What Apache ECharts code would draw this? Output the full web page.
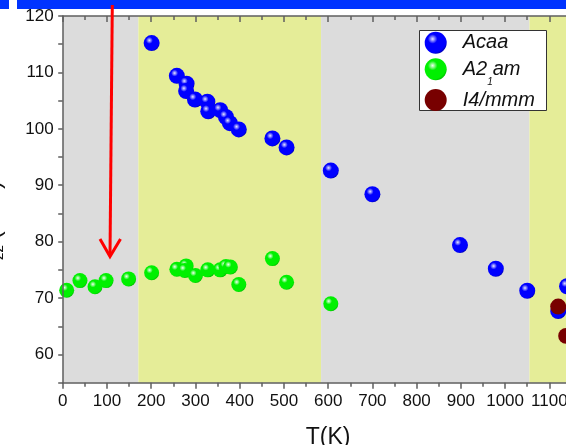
<!DOCTYPE html>
<html><head><meta charset="utf-8">
<script src="https://cdn.jsdelivr.net/npm/echarts@6/dist/echarts.min.js"></script>
<style>html,body{margin:0;padding:0;background:#fff}#c{width:566px;height:445px}</style>
</head><body><div id="c"></div>
<script>
// ---- data ----
const acaaT = [201, 258, 280, 279, 299, 327, 329, 356, 369, 378, 398, 474, 506, 606, 700, 898, 979, 1050, 1120, 1140];
const acaaV = [115.2, 109.4, 108.0, 106.7, 105.2, 104.8, 103.1, 103.3, 102.1, 101.0, 99.9, 98.3, 96.7, 92.6, 88.4, 79.4, 75.2, 71.3, 67.7, 72.1];
const a21amT = [9, 39, 73, 98, 149, 201, 258, 279, 276, 300, 328, 356, 369, 379, 398, 474, 506, 606];
const a21amV = [71.4, 73.1, 72.0, 73.1, 73.4, 74.5, 75.1, 75.7, 74.9, 74.0, 75.0, 75.0, 75.6, 75.5, 72.4, 77.0, 72.8, 69.0];
const i4mmmT = [1120, 1138];
const i4mmmV = [68.5, 63.3];
const phaseEdges = [0, 171, 584, 1055, 1200];
const seriesNames = ['Acaa', 'A21am', 'I4/mmm'];
const xRange = [0, 1200];
const yRange = [55, 120];

const FONT = 'Liberation Sans';
const AX = '#5f5f5f';
const chart = echarts.init(document.getElementById('c'), null, {renderer: 'canvas'});

function ball(hi, base, edge) {
  return {type: 'radial', x: 0.36, y: 0.33, r: 0.72,
    colorStops: [{offset: 0, color: hi}, {offset: 0.3, color: base}, {offset: 0.85, color: base}, {offset: 1, color: edge}]};
}
const bandFill = ['#dcdcdc', '#e5ed98'];
const bands = [];
for (let i = 0; i < phaseEdges.length - 1; i++) {
  bands.push([{xAxis: phaseEdges[i], itemStyle: {color: bandFill[i % 2], opacity: 1}}, {xAxis: phaseEdges[i + 1]}]);
}
const zip = (a, b) => a.map((v, i) => [v, b[i]]);

const legendBase = {orient: 'vertical', left: 424.7, padding: 0, itemWidth: 44, itemHeight: 22, itemGap: 0,
  selectedMode: false, z: 20, icon: 'circle',
  textStyle: {fontFamily: FONT, fontSize: 20, fontStyle: 'italic', color: '#111', padding: [0, 0, 0, 0]}};

const option = {
  animation: false,
  backgroundColor: '#fff',
  grid: {left: 62.7, top: 16, width: 530.9, height: 366.7, containLabel: false, outerBoundsMode: 'none'},
  xAxis: [{
    type: 'value', min: xRange[0], max: xRange[1], interval: 100, position: 'bottom', z: 10,
    axisLine: {onZero: false, lineStyle: {color: AX, width: 1.5}},
    axisTick: {length: 6, lineStyle: {color: AX, width: 1.5}},
    minorTick: {show: true, splitNumber: 2, length: 4, lineStyle: {color: AX, width: 1.5}},
    splitLine: {show: false},
    axisLabel: {color: '#111', fontSize: 17, fontFamily: FONT, margin: 10, formatter: v => String(v)},
    name: 'T(K)', nameLocation: 'middle', nameGap: 43,
    nameTextStyle: {fontSize: 23, color: '#111', fontFamily: FONT}
  }, {
    type: 'value', min: xRange[0], max: xRange[1], interval: 100, position: 'top', z: 10,
    axisLine: {onZero: false, lineStyle: {color: AX, width: 1.5}},
    axisTick: {inside: true, length: 6, lineStyle: {color: AX, width: 1.5}},
    minorTick: {show: true, splitNumber: 2, length: 4, lineStyle: {color: AX, width: 1.5}},
    splitLine: {show: false}, axisLabel: {show: false}
  }],
  yAxis: {
    type: 'value', min: yRange[0], max: yRange[1], interval: 5, z: 10,
    axisLine: {onZero: false, lineStyle: {color: AX, width: 1.5}},
    axisTick: {length: 4.5, lineStyle: {color: AX, width: 1.5}},
    splitLine: {show: false},
    axisLabel: {color: '#111', fontSize: 17, fontFamily: FONT, margin: 9,
      formatter: v => (v % 10 === 0 ? String(v) : '')}
  },
  legend: [
    Object.assign({}, legendBase, {top: 31.7, data: [seriesNames[0]]}),
    Object.assign({}, legendBase, {top: 51.3, data: [seriesNames[1]],
      formatter: () => '{t|A2}{s|1}{t|am}',
      textStyle: Object.assign({}, legendBase.textStyle, {
        rich: {t: {fontFamily: FONT, fontSize: 20, fontStyle: 'italic', lineHeight: 22, color: '#111'},
               s: {fontFamily: FONT, fontSize: 10, fontStyle: 'italic', lineHeight: 8, padding: [26, 0, 0, 0], color: '#111'}}})}),
    Object.assign({}, legendBase, {top: 89, data: [seriesNames[2]]})
  ],
  series: [
    {type: 'scatter', name: 'bands', data: [], z: 1, silent: true,
      markArea: {silent: true, data: bands}},
    {type: 'scatter', name: seriesNames[0], data: zip(acaaT, acaaV), symbolSize: 16, z: 3,
      itemStyle: {color: ball('#e6e6ff', '#0000ff', '#0000b0'), opacity: 1}},
    {type: 'scatter', name: seriesNames[1], data: zip(a21amT, a21amV), symbolSize: 15, z: 4,
      itemStyle: {color: ball('#f0fff0', '#00f000', '#00b800'), opacity: 1}},
    {type: 'scatter', name: seriesNames[2], data: zip(i4mmmT, i4mmmV), symbolSize: 16, z: 5,
      itemStyle: {color: '#780000', opacity: 1}}
  ],
  graphic: [
    {type: 'rect', z: 15, shape: {x: 419.5, y: 30.5, width: 127, height: 80},
      style: {fill: '#fff', stroke: '#333', lineWidth: 1}},
    {type: 'text', z: 15, x: 7, y: 228, rotation: Math.PI / 2,
      style: {text: '{v|V}{s|zz}{v| (V/Å²)}', align: 'center', verticalAlign: 'bottom',
        rich: {v: {fontFamily: FONT, fontSize: 22, lineHeight: 26, fill: '#111'},
               s: {fontFamily: FONT, fontSize: 15, lineHeight: 15, padding: [10, 0, 0, 0], fill: '#111'}}}},
    {type: 'rect', z: 100, shape: {x: 0, y: 0, width: 9, height: 9}, style: {fill: '#0033ff'}},
    {type: 'rect', z: 100, shape: {x: 17, y: 0, width: 549, height: 9}, style: {fill: '#0033ff'}},
    {type: 'line', z: 101, shape: {x1: 112.3, y1: 5, x2: 110, y2: 256}, style: {stroke: '#ff0000', lineWidth: 3}},
    {type: 'polyline', z: 101, shape: {points: [[100, 239], [110, 256.5], [120.5, 239]]},
      style: {stroke: '#ff0000', lineWidth: 3, fill: null}}
  ]
};
chart.setOption(option);
</script>
</body></html>
